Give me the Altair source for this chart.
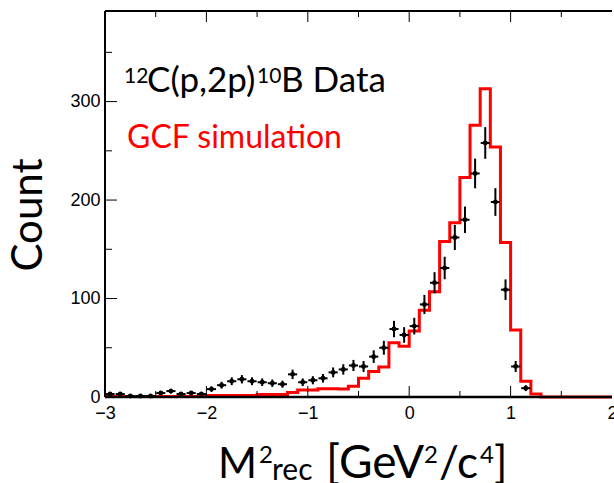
import altair as alt
import pandas as pd
import numpy as np

# ---- data ----
data_centers = [round(-2.95 + 0.1 * i, 2) for i in range(42)]   # -2.95 .. 1.15
data_counts = [3, 3, 1, 1, 1, 4, 6, 3, 4, 3,
               8, 12, 16, 18, 16, 15, 14, 13, 23, 15,
               17, 19, 25, 28, 32, 31, 41, 50, 69, 63,
               72, 94, 116, 131, 162, 180, 227, 258, 198, 109,
               31, 9]

sim_edges = [round(-3.0 + 0.1 * i, 2) for i in range(51)]       # -3.0 .. 2.0
sim_values = [0.5, 0.5, 0.5, 0.5, 0.5, 0.5, 0.5, 0.5, 0.5, 0.5,
              1.5, 1.5, 1.5, 1.5, 1.5,
              2.5, 2.5, 2.5, 4.5, 7, 7, 8.5, 8.5, 8, 11,
              19, 26, 30.5, 55, 51.5, 67, 88, 107, 158, 177,
              223, 276, 313, 254, 157, 68, 16, 3,
              0, 0, 0, 0, 0, 0, 0]

x_major = [-2, -1, 0, 1]
x_minor = [-2.5, -1.5, -0.5, 0.5, 1.5]
x_labels = [-3, -2, -1, 0, 1, 2]
y_major = [100, 200, 300]
y_minor = [50, 150, 250, 350]
y_labels = [0, 100, 200, 300]

# ---- layout ----
W, H = 507, 386
PL, PT = 105, 11
XD = [-3, 2]
YD = [0, 392]

df_data = pd.DataFrame({"x": data_centers, "n": data_counts})
df_sim = pd.DataFrame({"x": sim_edges, "v": sim_values + [sim_values[-1]]})

xs = alt.Scale(domain=XD, nice=False, zero=False)
ys = alt.Scale(domain=YD, nice=False, zero=False)

xaxis = alt.Axis(values=x_labels, format="d", domain=False, ticks=False, grid=False,
                 labelFont="Liberation Sans", labelFontSize=18, labelColor="black",
                 labelPadding=7, title=None, labelFlush=False)
yaxis = alt.Axis(values=y_labels, format="d", domain=False, ticks=False, grid=False,
                 labelFont="Liberation Sans", labelFontSize=18, labelColor="black",
                 labelPadding=5, title=None)

# simulation histogram (step line)
sim = alt.Chart(df_sim).mark_line(interpolate="step-after", color="#ff0000", strokeWidth=3).encode(
    x=alt.X("x:Q", scale=xs, axis=xaxis),
    y=alt.Y("v:Q", scale=ys, axis=yaxis),
)

base = alt.Chart(df_data).transform_calculate(
    lo="datum.n - sqrt(datum.n)",
    hi="datum.n + sqrt(datum.n)",
    xl="datum.x - 0.045",
    xr="datum.x + 0.045",
)
vbar = base.mark_rule(color="black", strokeWidth=2).encode(
    x=alt.X("x:Q", scale=xs), y=alt.Y("lo:Q", scale=ys), y2="hi:Q")
hbar = base.mark_rule(color="black", strokeWidth=2).encode(
    x=alt.X("xl:Q", scale=xs), x2="xr:Q", y=alt.Y("n:Q", scale=ys))
pts = base.mark_point(filled=True, shape="circle", size=24, color="black", opacity=1).encode(
    x=alt.X("x:Q", scale=xs), y=alt.Y("n:Q", scale=ys))

# frame
one = pd.DataFrame({"a": [0]})
frame_left = alt.Chart(one).mark_rule(color="black", strokeWidth=2).encode(
    x=alt.value(0), y=alt.value(0), y2=alt.value(H))
frame_bottom = alt.Chart(one).mark_rule(color="black", strokeWidth=2.5).encode(
    x=alt.value(0), x2=alt.value(W), y=alt.value(H))
frame_top = alt.Chart(one).mark_rule(color="black", strokeWidth=2).encode(
    x=alt.value(0), x2=alt.value(W), y=alt.value(0))

def xticks(vals, length, top=False):
    d = pd.DataFrame({"t": vals})
    if top:
        return alt.Chart(d).mark_rule(color="black", strokeWidth=1).encode(
            x=alt.X("t:Q", scale=xs), y=alt.value(0), y2=alt.value(length))
    return alt.Chart(d).mark_rule(color="black", strokeWidth=1).encode(
        x=alt.X("t:Q", scale=xs), y=alt.value(H), y2=alt.value(H - length))

def yticks(vals, length):
    d = pd.DataFrame({"t": vals})
    return alt.Chart(d).mark_rule(color="black", strokeWidth=1).encode(
        y=alt.Y("t:Q", scale=ys), x=alt.value(0), x2=alt.value(length))

ticks = [xticks(x_major, 11), xticks(x_minor, 6), xticks(x_major, 11, True), xticks(x_minor, 6, True),
         yticks(y_major, 12), yticks(y_minor, 7)]

def label(text, x, y, size, color="black", angle=None, align="left"):
    kw = dict(align=align, baseline="alphabetic", font="Lato", fontSize=size, color=color)
    if angle is not None:
        kw["angle"] = angle
    return alt.Chart(pd.DataFrame({"t": [text]})).mark_text(**kw).encode(
        x=alt.value(x - PL), y=alt.value(y - PT), text="t:N")

texts = [
    label("12", 124, 83, 21),
    label("C(p,2p)", 147, 92, 35),
    label("10", 257, 83, 21),
    label("B Data", 281, 92, 35),
    label("GCF simulation", 127, 148, 32, color="#ff0000"),
    label("Count", 42, 215, 42, angle=270, align="center"),
    label("M", 218, 478, 42),
    label("2", 259, 463, 24),
    label("rec", 272, 480, 30),
    label("[GeV", 326, 478, 46),
    label("2", 424, 463, 24),
    label("/c", 439, 478, 44),
    label("4", 480, 463, 24),
    label("]", 494, 478, 44),
]

chart = alt.layer(
    sim, *ticks, frame_left, frame_top, vbar, hbar, pts, frame_bottom, *texts
).properties(
    width=W, height=H,
    autosize=alt.AutoSizeParams(type="none"),
    padding={"left": PL, "top": PT, "right": 614 - PL - W, "bottom": 483 - PT - H},
).configure_view(stroke=None)

chart.save("out.html", embed_options={"renderer": "svg", "actions": False})
